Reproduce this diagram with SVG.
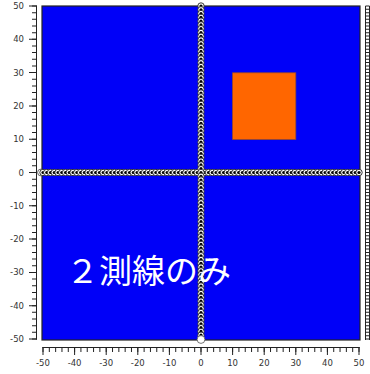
<svg xmlns="http://www.w3.org/2000/svg" width="370" height="374" viewBox="0 0 370 374">
<style>
.lbl{font-family:"DejaVu Sans",Verdana,sans-serif;font-size:8.5px;fill:#333}
.ly{text-anchor:end}
.lx{text-anchor:middle}
.ax{stroke:#222;fill:none}
.chain{fill:none;stroke:none;marker-start:url(#bead);marker-mid:url(#bead);marker-end:url(#bead)}
.title{font-family:"Noto Sans CJK JP","Noto Sans",sans-serif;font-size:33px;fill:#ffffff}
</style>
<defs>
<marker id="bead" markerUnits="userSpaceOnUse" markerWidth="10" markerHeight="10" refX="5" refY="5" viewBox="0 0 10 10" overflow="visible">
<circle cx="5" cy="5" r="3.2" fill="#ffffff" stroke="#222" stroke-width="0.9"/>
<circle cx="5" cy="5" r="1.6" fill="#000"/>
</marker>
</defs>
<rect width="370" height="374" fill="#ffffff"/>
<g id="plot">
<rect x="42" y="6" width="318" height="334" fill="#0000f8" stroke="#222" stroke-width="1.2"/>
</g>
<g id="square">
<rect x="232.6" y="72.8" width="63.2" height="66.6" fill="#ff6600" stroke="#9a4a2a" stroke-width="0.8"/>
</g>
<g id="y-axis">
<line class="ax" x1="36.5" y1="6" x2="36.5" y2="339.5" stroke-width="1"/>
<line class="ax" x1="34.5" y1="5.5" x2="34.5" y2="340" stroke-width="5" stroke-dasharray="1 5.66"/>
<line class="ax" x1="33" y1="5.5" x2="33" y2="340" stroke-width="8" stroke-dasharray="1 32.3"/>
<text class="lbl ly" x="24" y="9">50</text>
<text class="lbl ly" x="24" y="42.3">40</text>
<text class="lbl ly" x="24" y="75.6">30</text>
<text class="lbl ly" x="24" y="108.9">20</text>
<text class="lbl ly" x="24" y="142.2">10</text>
<text class="lbl ly" x="24" y="175.5">0</text>
<text class="lbl ly" x="24" y="208.8">-10</text>
<text class="lbl ly" x="24" y="242.1">-20</text>
<text class="lbl ly" x="24" y="275.4">-30</text>
<text class="lbl ly" x="24" y="308.7">-40</text>
<text class="lbl ly" x="24" y="342">-50</text>
</g>
<g id="x-axis">
<line class="ax" x1="42.5" y1="347.5" x2="359.5" y2="347.5" stroke-width="1"/>
<line class="ax" x1="42.5" y1="349.5" x2="360" y2="349.5" stroke-width="5" stroke-dasharray="1 5.32"/>
<line class="ax" x1="42.5" y1="351" x2="360" y2="351" stroke-width="8" stroke-dasharray="1 30.6"/>
<text class="lbl lx" x="43" y="366">-50</text>
<text class="lbl lx" x="74.6" y="366">-40</text>
<text class="lbl lx" x="106.2" y="366">-30</text>
<text class="lbl lx" x="137.8" y="366">-20</text>
<text class="lbl lx" x="169.4" y="366">-10</text>
<text class="lbl lx" x="201" y="366">0</text>
<text class="lbl lx" x="232.6" y="366">10</text>
<text class="lbl lx" x="264.2" y="366">20</text>
<text class="lbl lx" x="295.8" y="366">30</text>
<text class="lbl lx" x="327.4" y="366">40</text>
<text class="lbl lx" x="359" y="366">50</text>
</g>
<g id="right-axis">
<line class="ax" x1="365.5" y1="6" x2="365.5" y2="340" stroke-width="1"/>
<line class="ax" x1="369.5" y1="6" x2="369.5" y2="340" stroke-width="1"/>
<line class="ax" x1="367.5" y1="5.5" x2="367.5" y2="340" stroke-width="4" stroke-dasharray="1 2.33"/>
</g>
<g id="connectors">
<g id="line-horizontal">
<circle cx="41" cy="172.5" r="3.4" fill="#fff" stroke="#444" stroke-width="0.8"/>
<path class="chain" d="M43 172.5
h3.762h3.762h3.762h3.762h3.762h3.762h3.762
h3.762h3.762h3.762h3.762h3.762h3.762h3.762
h3.762h3.762h3.762h3.762h3.762h3.762h3.762
h3.762h3.762h3.762h3.762h3.762h3.762h3.762
h3.762h3.762h3.762h3.762h3.762h3.762h3.762
h3.762h3.762h3.762h3.762h3.762h3.762h3.762
h3.762h3.762h3.762h3.762h3.762h3.762h3.762
h3.762h3.762h3.762h3.762h3.762h3.762h3.762
h3.762h3.762h3.762h3.762h3.762h3.762h3.762
h3.762h3.762h3.762h3.762h3.762h3.762h3.762
h3.762h3.762h3.762h3.762h3.762h3.762h3.762
h3.762h3.762h3.762h3.762h3.762h3.762h3.762"/>
</g>
<g id="line-vertical">
<path class="chain" d="M201 6
v3.784v3.784v3.784v3.784v3.784v3.784v3.784v3.784
v3.784v3.784v3.784v3.784v3.784v3.784v3.784v3.784
v3.784v3.784v3.784v3.784v3.784v3.784v3.784v3.784
v3.784v3.784v3.784v3.784v3.784v3.784v3.784v3.784
v3.784v3.784v3.784v3.784v3.784v3.784v3.784v3.784
v3.784v3.784v3.784v3.784v3.784v3.784v3.784v3.784
v3.784v3.784v3.784v3.784v3.784v3.784v3.784v3.784
v3.784v3.784v3.784v3.784v3.784v3.784v3.784v3.784
v3.784v3.784v3.784v3.784v3.784v3.784v3.784v3.784
v3.784v3.784v3.784v3.784v3.784v3.784v3.784v3.784
v3.784v3.784v3.784v3.784v3.784v3.784v3.784v3.784"/>
<circle cx="201" cy="339.5" r="3.9" fill="#fff" stroke="#555" stroke-width="0.8"/>
</g>
</g>
<g id="label">
<text class="title" x="66" y="283">２測線のみ</text>
</g>
</svg>
